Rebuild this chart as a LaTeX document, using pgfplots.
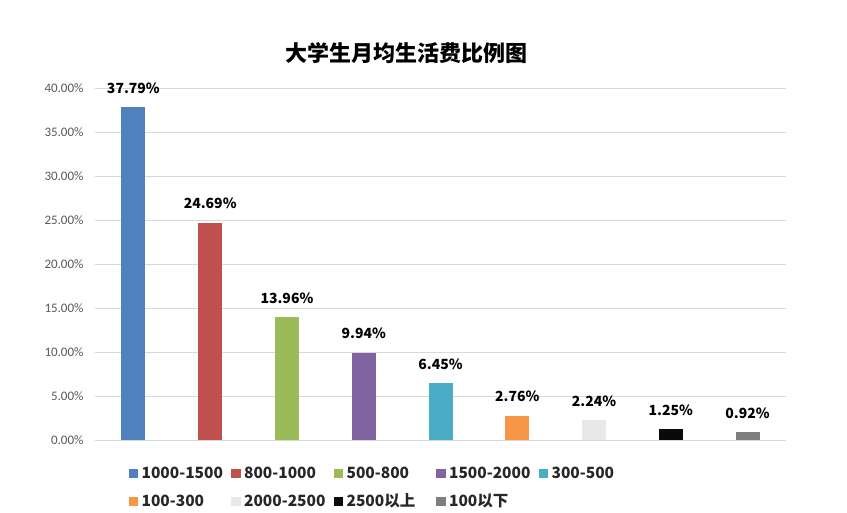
\documentclass[border=0pt]{standalone}
\usepackage{pgfplots}
\pgfplotsset{compat=1.18}
\usepackage{fontspec}
\setmainfont{Noto Sans CJK SC}
\newfontfamily\tickfont{Carlito}
\definecolor{c1}{HTML}{4F81BD}
\definecolor{c2}{HTML}{C0504D}
\definecolor{c3}{HTML}{9BBB59}
\definecolor{c4}{HTML}{8064A2}
\definecolor{c5}{HTML}{4BACC6}
\definecolor{c6}{HTML}{F79646}
\definecolor{c7}{HTML}{E8E8E6}
\definecolor{c8}{HTML}{0A0A0A}
\definecolor{c9}{HTML}{7F7F7F}
\definecolor{tickgray}{HTML}{595959}
\definecolor{gridgray}{HTML}{D9D9D9}
\begin{document}
\begin{tikzpicture}
\begin{axis}[
  scale only axis,
  width=691pt, height=352pt,
  ybar, bar width=24pt, bar shift=0pt,
  xmin=-0.5, xmax=8.5,
  ymin=0, ymax=40,
  ytick={0,5,...,40},
  xtick=\empty,
  ymajorgrids,
  grid style={gridgray, line width=0.8pt},
  axis line style={draw=none},
  major tick length=0pt,
  yticklabel={\pgfmathprintnumber[fixed,precision=2,zerofill]{\tick}\%},
  /pgf/number format/assume math mode=true,
  yticklabel style={font=\tickfont\fontsize{13}{13}\selectfont, text=tickgray, xshift=-8pt},
  nodes near coords={\pgfmathprintnumber[fixed,precision=2,zerofill]{\pgfplotspointmeta}\%},
  nodes near coords style={font=\bfseries\fontsize{14}{14}\selectfont, text=black, yshift=10pt},
  title={大学生月均生活费比例图},
  title style={font=\bfseries\fontsize{22}{22}\selectfont, at={(0.4515,1.083)}, anchor=center},
  legend columns=5,
  legend cell align=left,
  legend style={draw=none, fill=none, at={(0.044,-0.066)}, anchor=north west,
    font=\bfseries\fontsize{15.5}{15.5}\selectfont, text=black!85,
    nodes={anchor=west, text width=88pt, inner sep=1.5pt},
    /tikz/every odd column/.append style={column sep=2pt},
    row sep=11pt},
  legend image code/.code={\fill[#1] (0pt,-4.5pt) rectangle (9.5pt,4.5pt);},
]
\addplot[fill=c1, draw=none] coordinates {(0,37.79)};
\addlegendentry{1000-1500}
\addplot[fill=c2, draw=none] coordinates {(1,24.69)};
\addlegendentry{800-1000}
\addplot[fill=c3, draw=none] coordinates {(2,13.96)};
\addlegendentry{500-800}
\addplot[fill=c4, draw=none] coordinates {(3,9.94)};
\addlegendentry{1500-2000}
\addplot[fill=c5, draw=none] coordinates {(4,6.45)};
\addlegendentry{300-500}
\addplot[fill=c6, draw=none] coordinates {(5,2.76)};
\addlegendentry{100-300}
\addplot[fill=c7, draw=none] coordinates {(6,2.24)};
\addlegendentry{2000-2500}
\addplot[fill=c8, draw=none] coordinates {(7,1.25)};
\addlegendentry{2500以上}
\addplot[fill=c9, draw=none] coordinates {(8,0.92)};
\addlegendentry{100以下}
\end{axis}
\path[use as bounding box] (-95pt,-73pt) rectangle (752pt,440pt);
\end{tikzpicture}
\end{document}
